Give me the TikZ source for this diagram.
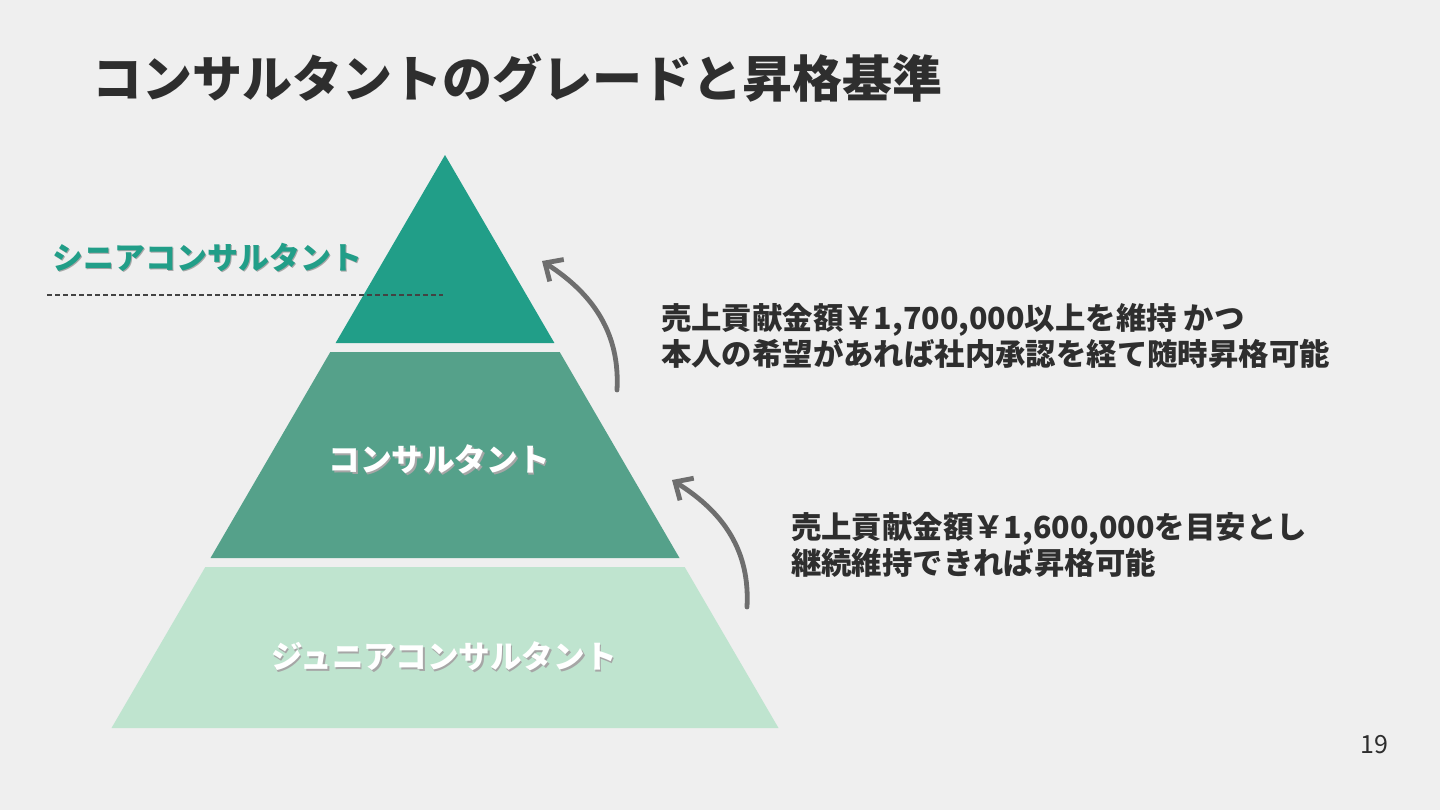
\documentclass[tikz,border=0pt]{standalone}
\usepackage{fontspec}
\setmainfont{Noto Sans CJK JP}
\usetikzlibrary{arrows.meta,positioning}
\definecolor{paper}{HTML}{EFEFEF}
\definecolor{inkdark}{HTML}{2E2E2E}
\definecolor{seniorteal}{HTML}{219E88}
\definecolor{midgreen}{HTML}{55A18A}
\definecolor{juniorgreen}{HTML}{BFE4CF}
\definecolor{arrowgray}{HTML}{6E6E6E}
\newcommand{\shadowed}[1]{\makebox[0pt][l]{\hspace{0.8pt}\raisebox{-0.8pt}{\textcolor{black!35}{#1}}}#1}
\tikzset{
  title/.style={anchor=west, text=inkdark, font=\bfseries\fontsize{25}{30}\selectfont},
  tierlabel/.style={text=white, font=\bfseries\fontsize{15.8}{18}\selectfont},
  seniorlabel/.style={anchor=west, text=seniorteal, font=\bfseries\fontsize{15.5}{18}\selectfont},
  criteria/.style={anchor=west, align=left, text=inkdark, font=\bfseries\fontsize{15.2}{18}\selectfont},
  upgrade/.style={-{Straight Barb[length=7pt, width=13pt, line width=2.4pt]}, line width=2.4pt, draw=arrowgray, line cap=round},
  guide/.style={draw=inkdark!90, line width=1.1pt, dash pattern=on 2.5pt off 1.5pt}
}
\begin{document}
\begin{tikzpicture}[x=0.5pt, y=-0.5pt]
  \useasboundingbox[fill=paper] (0,0) rectangle (1440,810);
  \node[title] (ttl) at (85,78) {コンサルタントのグレードと昇格基準};

  % pyramid
  \fill[seniorteal] (445,155) -- (554.4,343) -- (335.6,343) -- cycle;
  \fill[midgreen] (559.7,352) -- (679.5,558) -- (210.5,558) -- (330.3,352) -- cycle;
  \fill[juniorgreen] (684.7,567) -- (778.5,728) -- (111.5,728) -- (205.3,567) -- cycle;

  \node[seniorlabel] (senior) at (45,258) {\shadowed{シニアコンサルタント}};
  \coordinate (guideL) at (47,295);
  \coordinate (guideR) at (443,295);
  \draw[guide] (guideL) -- (guideR);
  \node[tierlabel] (mid) at (439,460) {\shadowed{コンサルタント}};
  \node[tierlabel] (junior) at (444,657) {\shadowed{ジュニアコンサルタント}};

  % promotion arrows
  \coordinate (up1s) at (617,390);
  \coordinate (up1e) at (542,261);
  \coordinate (up2s) at (747,607);
  \coordinate (up2e) at (672,480);
  \draw[upgrade] (up1s) .. controls (620,335) and (595,295) .. (up1e);
  \draw[upgrade] (up2s) .. controls (750,552) and (725,513) .. (up2e);

  \node[criteria] (crit1) at (654,336) {売上貢献金額￥1,700,000以上を維持 かつ\\本人の希望があれば社内承認を経て随時昇格可能};
  \node[criteria] (crit2) at (784,545) {売上貢献金額￥1,600,000を目安とし\\継続維持できれば昇格可能};

  \node[text=inkdark, font=\fontsize{12.5}{15}\selectfont] (page) at (1374,745) {19};
\end{tikzpicture}
\end{document}
